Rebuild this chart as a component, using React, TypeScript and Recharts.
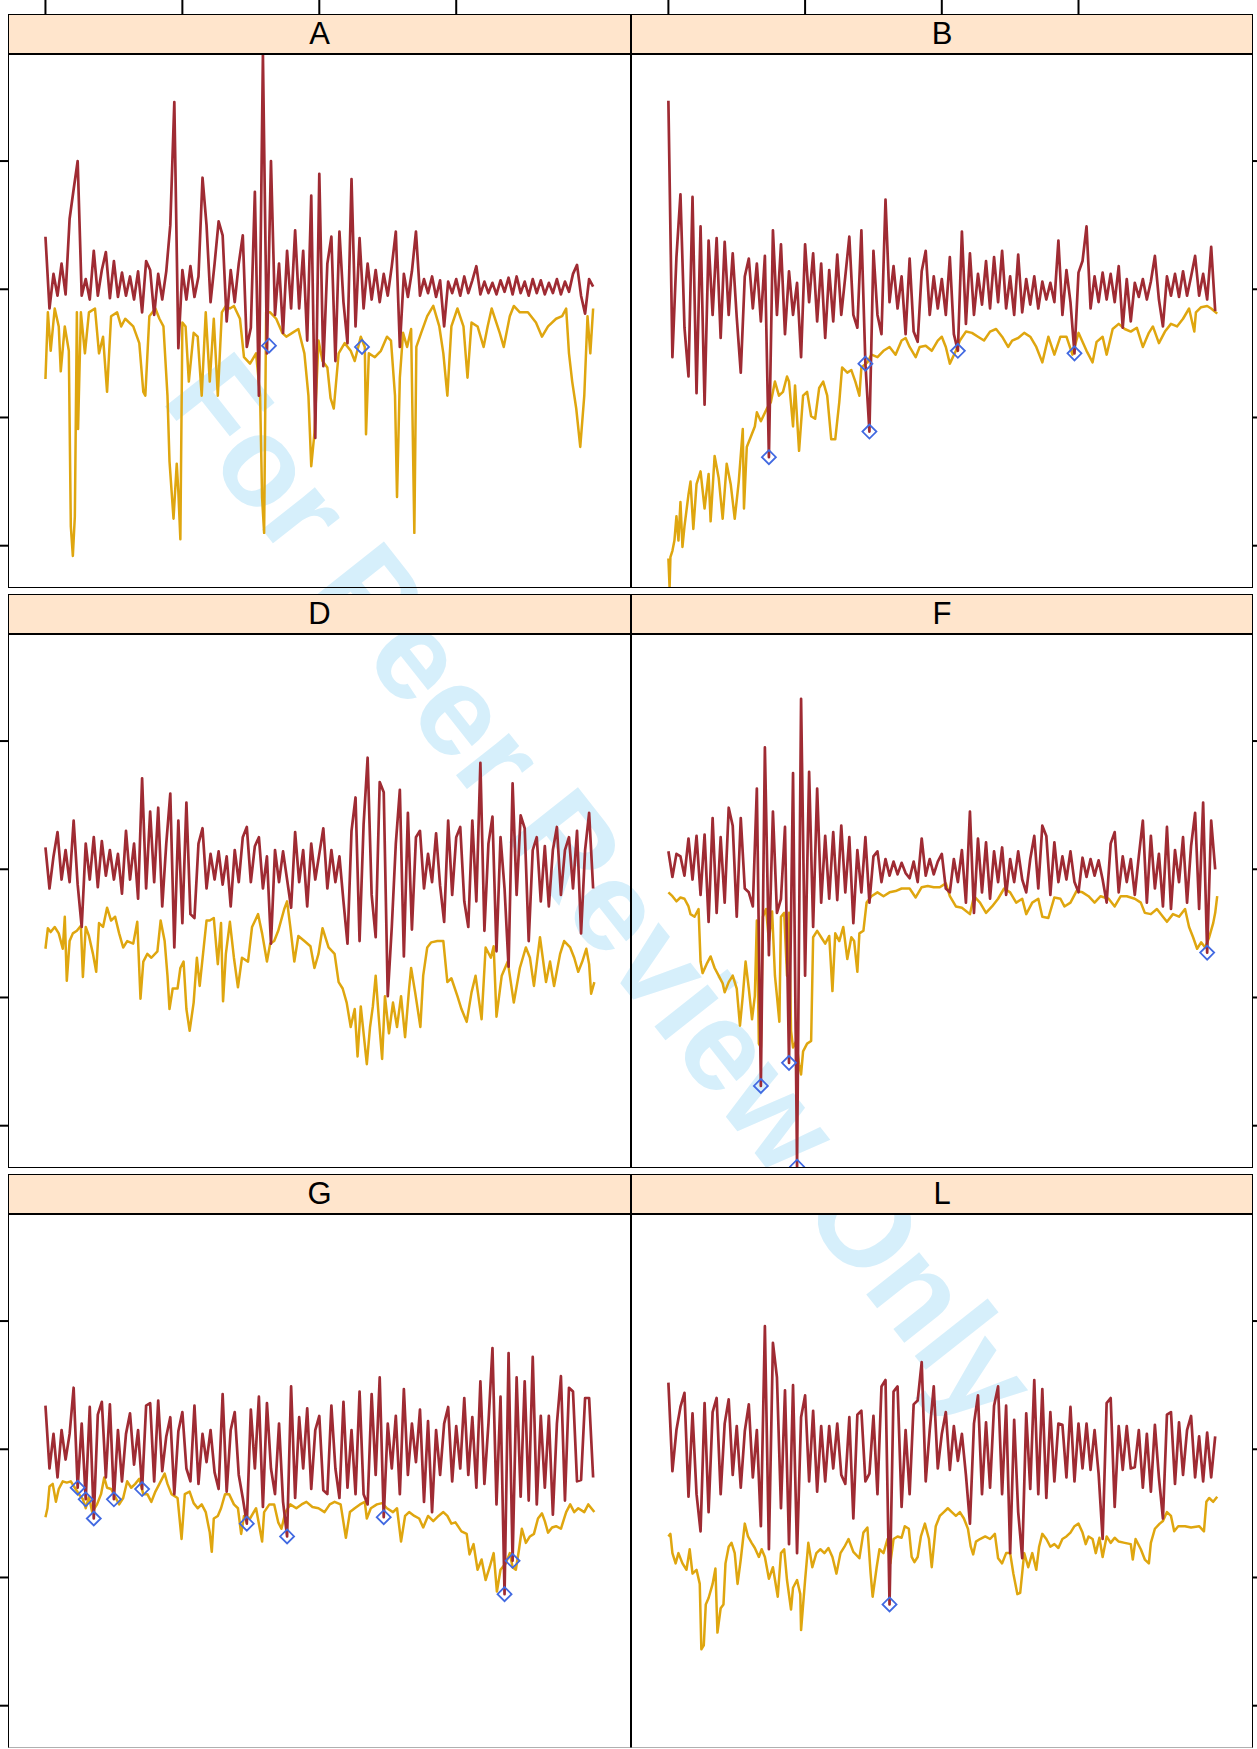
import React from 'react';
import { ComposedChart, Line, Scatter, XAxis, YAxis } from 'recharts';

// time index ticks (top axis) and value ticks (side axes)
const xTicks = [0, 340, 680, 1020];
const yTicks = [10, 0, -10, -20];
const X_STEP = 10;

// red series: one value per step of 10 on the time index
const redA = [
  4.1, -1.5, 1.2, -0.5, 2, -0.4, 5.5, 7.8, 10, -0.5,
  0.8, -0.8, 3, -0.5, 1.5, 2.9, -0.7, 2.2, -0.6, 1.3,
  -0.5, 1, -0.8, 1.4, -1.8, 2.2, 1.5, -2, 1.2, -0.8,
  1.4, 5, 14.6, -4.6, 1.5, -0.8, 1.8, -0.6, 1, 8.7,
  5, -1, 2, 5.3, 4.2, -2.5, 1.5, -1, 2, 4.2,
  -4.5, -3, 7.6, -8.3, 18.3, -5, 10, -2, 2, -3.4,
  3, -1.5, 4.6, -1.5, 3, -4, 7.3, -11.6, 9, -6,
  2, 4.1, -5.6, 4.5, -1, -4.2, 8.6, -2.9, 4, -1.5,
  2, -0.8, 1.5, -1, 1.2, -0.5, 1.8, 4.5, -4.5, 1.2,
  -0.6, 1.4, 4.5, -0.5, 0.8, -0.3, 1, -0.6, 0.7, -2.9,
  0.6, -0.3, 0.8, -0.5, 1, -0.3, 0.7, 1.8, -0.4, 0.6,
  -0.3, 0.5, -0.4, 0.7, -0.2, 0.9, -0.4, 1, -0.3, 0.6,
  -0.5, 0.8, -0.3, 0.7, -0.4, 0.5, -0.3, 0.8, -0.4, 0.6,
  -0.2, 1.2, 1.9, -0.5, -1.9, 0.8, 0.2,
];
const redB = [
  14.7, -5.3, 2.5, 7.4, -3, -6.8, 7.2, -8.1, 4.9, -9,
  3.8, -2, 4, -3.8, 3.7, -2, 2.8, -2.2, -6.5, 1,
  2.4, -1.5, 2, -2.5, 2.6, -13.1, 4.6, -2, 3.5, -3.5,
  1.4, -2, 0.5, -5.3, 3.5, -1, 2.8, -2.5, 2, -3.8,
  1.5, -2.5, 2.7, -2, 1, 4.1, -2, -3, 4.6, -5.8,
  -11.1, 3, -2, -3.5, 7, -1, 1.8, -1.5, 1, -3.5,
  2.4, -3.3, -4.1, 1.4, 3, -2, 1, -1.5, 0.8, -2,
  2.5, -3.5, -4.8, 4.5, -2.7, 2.8, -2, 1.2, -1.2, 2.2,
  -1.5, 2.5, -1, 3, -1.5, 1, -2, 2.7, -1.8, 0.8,
  -1.2, 1, -1.5, 0.6, -0.8, 0.5, -1, 3.8, -2, 1.5,
  -1, -5, 1.3, 2.2, 4.9, -1.5, 1, -1, 1.3, -0.8,
  1.2, -1, 1.8, -3, 0.8, -2.5, 0.5, -0.6, 0.8, -0.8,
  0.6, 2.6, -0.8, -2.9, 1, -0.5, 1.2, -0.6, 1.4, -0.5,
  1, 2.6, -0.5, 1.2, -0.8, 3.3, -1.7,
];
const redD = [
  1.7, -1.5, 1, 2.9, -0.8, 1.5, -1, 3.8, -1.2, -4.5,
  2, -0.8, 2.5, -1.4, 2.2, -0.5, 1.5, -0.8, 1.2, -1.9,
  3, -0.8, 2, -2.3, 7.1, -1.5, 4.5, -1, 4.8, -2.9,
  2, 5.9, -6.1, 3.8, -4.2, 5.2, -3.5, -3.8, 2, 3.2,
  -1.5, 1.2, -0.8, 1.4, -1.2, 1, -2.9, 1.5, -1, 2.5,
  3.3, -1, 1.8, 2.5, -1.5, 1, -5.8, 1.5, -1, 1.4,
  -0.8, -3, 2.9, -1, 1.5, -2.9, 2, -0.8, 1.2, 3.2,
  -1.5, 1.5, -1, 1, -2.5, -5.8, 3, 5.6, -5.6, 3.5,
  8.7, -2, -5.3, 6.8, 6, -9.9, -4.5, 2, 6.2, -6.8,
  4.4, -4.7, 2.5, 3, -1.5, 1.2, -1, 2.8, -1.3, -4.1,
  3.8, -2, 2.5, 3.3, -2.5, -4.5, 3.8, -2.5, 8.3, -4.8,
  2, 4.1, -6.4, 2.5, -1.5, -7.6, 6.7, -2, 4.2, 3.2,
  -5.6, 1.5, 2.5, -2.5, 1.8, -2.9, 1.5, 3.3, -2, 1.5,
  2.5, -1.5, 3, -5, 1.5, 4.4, -1.5,
];
const redF = [
  1.4, -0.6, 1.2, 1, -0.5, 2.4, -0.8, 2.6, -2, 2.7,
  -4.1, 4, -3.4, 2.5, -2.6, 4.8, 3.4, -3.7, 4, -1.5,
  -1.8, -2.9, 6.3, -16.9, 9.5, -6.7, 4.5, -3.4, -2.3, 3.3,
  -15.1, 7.5, -23.2, 13.3, -8.3, 7.6, -4.5, 6.3, -2.6, 2.6,
  -2.3, 2.9, -2.4, 3.4, -1.8, 2.5, -4.2, 1.5, -1.8, 2.5,
  -2.6, 1, 1.4, -1, 0.8, -0.5, 0.6, -0.4, 0.5, -0.3,
  -0.7, 0.6, -1, 2.4, -0.5, 0.8, -0.4, 0.6, 1.2, -1.5,
  -1.8, 0.8, -1, 1.5, -2.6, 4.5, -3.4, 2.4, -1.8, 2.1,
  -2.3, 1.4, -1, 1.7, -2, 0.8, -1, 1.4, -0.8, -1.8,
  0.8, 2.6, -1.5, 3.4, 2.6, -2, 2.1, -1, 1, -0.8,
  1.4, -1, -1.8, 0.9, -0.6, 0.8, -0.5, 0.7, -0.8, -2.6,
  2, 2.9, -1.8, 1, -1, 0.8, -2, 1, 3.8, -2.6,
  2.6, -1.5, 1.2, -2.9, 3.3, -3.1, 1.5, -1, 2.5, -2.6,
  1.8, 4.4, -3.1, 5.2, -6.5, 3.8, 0,
];
const redG = [
  3.4, -1.5, 1.2, -2.2, 1.5, -0.8, 1.2, 4.8, -3, 2,
  -3.9, 3.3, -5.4, 2.7, 3.7, -2.2, 3.5, -3.9, 1.5, -2.5,
  1.2, 2.8, -1.2, 1.5, -3.1, 3.4, 3.6, -2.5, 3.8, -1.7,
  1, 2.5, -3.5, 1.4, 2.9, -1.5, -2.5, 3.4, -2.7, 1.2,
  -1, 1.5, -1.8, -3.1, 4.3, -3.3, 1.5, 2.9, -2, -3.8,
  -5.8, 3.1, -1.5, 4.1, -4.5, 3.6, -1.5, -3.5, 2, -4.1,
  -6.8, 4.9, -3.8, 2.5, -1.5, 3.2, -3.1, 1.5, 2.6, -3.2,
  -3.5, 3.4, -1.5, -3.8, 3.7, -3, 1.5, -3.5, 4.5, -3.5,
  -4.3, 4.3, -2, 5.6, -5.3, 2, -1.5, 2.6, -3.5, 4.7,
  -2, 2, -1, 3.1, -4.1, 2.2, -4.9, 1.5, -2, 2,
  3.3, -2.5, 1.8, -1.5, 4, -2, 2.5, -3, 5.3, -2.7,
  2, 7.9, -4.3, 4.1, -11.3, 7.5, -8.7, 5.6, -3.7, 5.3,
  -4, 7.2, -4.3, 2.6, -3, 2.6, -5.1, 2, 5.7, -4,
  4.8, 4.5, -2.5, -2.4, 4, 4, -2.2,
];
const redL = [
  5.2, -1.7, 1.5, 3.3, 4.4, -3.7, 2.8, -3.5, -6.4, 3.6,
  -4.9, 2.9, 4, -3.5, 2, 3.9, -2, 1.8, -3, 1.4,
  3.5, -2.2, 1.5, -6, 9.6, -7.8, 8.3, 5.6, -4.6, 4.6,
  -7.4, 5, -8.1, 2.5, 4.2, -2.5, 3, -3.3, 1.8, -2.5,
  1.8, -1.5, 2, -2, -2.7, 2.5, -5.4, 2.7, 3, -2.5,
  -1.9, 2.6, -3.5, 4.9, 5.4, -12.1, 4.5, 4.9, -4.5, 1.5,
  -3.5, 3.5, 3.8, 6.8, -2.5, 1.5, 4.9, -1.5, 1.2, 2.9,
  -1.6, 1.8, -0.9, 1.2, -2, -5.8, 2, 4.2, -3.5, 2.1,
  -3, 3.4, 4.9, -3.5, 3.4, -8.1, 2.3, -4.9, -8.5, 2.8,
  -3.1, 5.4, -3.5, 4.7, -3.8, 2.9, -2.5, 2, 1.9, -2.2,
  3.3, -2.5, 2, -1.5, 2, -1.6, 1.5, -1.9, -7, 3.6,
  4, -4.5, 1.8, -1.6, 1.8, -1.5, -1.4, 1.5, -3, 1.2,
  -3.3, 1.9, -2.2, -5.4, 2.7, 2.9, -2.7, 2.1, -2, 1.5,
  2.6, -2.2, 1, -2.5, 1.3, -2.2, 1,
];

// orange series: [time index, value]
const orangeA = [
  [0, -7], [6, -1.8], [13, -4.8], [23, -1.5], [33, -2.9], [38, -6.4], [48, -2.9], [58, -4.8], [63, -18.5], [68, -20.8],
  [73, -17.7], [78, -1.8], [81, -10.9], [88, -1.8], [98, -5], [108, -1.8], [123, -1.5], [133, -5], [143, -3.7], [153, -8],
  [163, -2.1], [178, -1.8], [188, -2.9], [198, -2.3], [218, -2.9], [233, -4.2], [243, -8], [248, -8.3], [258, -2.1], [273, -1.5],
  [283, -2.3], [293, -2.9], [303, -8.3], [308, -13.4], [318, -17.9], [326, -13.6], [330, -15.8], [335, -19.5], [340, -2.6], [348, -2.9],
  [356, -7.2], [368, -3.4], [378, -3.7], [388, -8.3], [398, -1.8], [408, -7.2], [418, -2.3], [428, -8.3], [438, -1.8], [448, -1.3],
  [458, -1.5], [468, -1.3], [483, -2.3], [493, -5.3], [508, -5.8], [523, -5], [533, -8.3], [538, -16.3], [543, -19], [548, -1.8],
  [558, -1.8], [573, -2.3], [588, -3.4], [598, -3.7], [613, -3.4], [628, -3.1], [643, -5], [653, -8.3], [660, -13.8], [668, -11.2],
  [678, -4], [688, -5.6], [700, -6.1], [708, -8.5], [716, -9.3], [728, -5], [743, -4.2], [758, -4.8], [768, -5.6], [783, -3.7],
  [793, -4.5], [796, -11.3], [803, -5], [818, -5.3], [833, -4.8], [848, -3.7], [858, -4], [868, -8.3], [873, -16.2], [880, -6.9],
  [888, -3.4], [898, -4.5], [908, -3.1], [916, -19], [921, -4.5], [933, -3.4], [948, -2.1], [963, -1.3], [978, -2.9], [988, -5],
  [998, -8.3], [1008, -2.9], [1023, -1.5], [1038, -2.9], [1048, -6.9], [1058, -2.6], [1073, -2.9], [1088, -4.5], [1098, -2.9], [1108, -1.5],
  [1128, -3.4], [1138, -4.5], [1153, -2.1], [1163, -1.3], [1178, -1.8], [1198, -1.8], [1218, -2.6], [1233, -3.7], [1248, -2.9], [1268, -2.3],
  [1283, -2.1], [1293, -1.5], [1300, -5], [1308, -7.2], [1318, -9.3], [1328, -12.3], [1338, -8.3], [1346, -2.1], [1353, -5], [1360, -1.5],
];
const orangeB = [
  [0, -21], [3, -23.3], [5, -20.9], [10, -20.4], [15, -19.6], [20, -17.7], [25, -19.6], [30, -16.6], [35, -20.1], [40, -18.5],
  [50, -16], [55, -15], [62, -18.7], [70, -15.2], [80, -14.2], [90, -17.1], [100, -14.4], [105, -18.1], [115, -13], [125, -14.7],
  [135, -17.9], [145, -13.6], [155, -15.2], [165, -17.9], [175, -15], [185, -10.9], [188, -17.1], [195, -12.3], [205, -11.5], [215, -10.7],
  [220, -9.6], [230, -10.3], [245, -9.3], [255, -8.8], [265, -7.2], [275, -8.3], [285, -8], [295, -6.8], [300, -7.2], [310, -10.7],
  [315, -7.5], [325, -12.6], [335, -8.3], [345, -8], [355, -9.9], [365, -10.1], [375, -7.7], [385, -7.2], [395, -8.3], [405, -11.7],
  [415, -11.7], [425, -8.8], [432, -6.1], [445, -6.5], [455, -6.3], [465, -7.2], [475, -8.3], [480, -6.1], [495, -5.7], [505, -5.1],
  [520, -5.3], [535, -4.8], [550, -4.5], [565, -5.1], [580, -4], [590, -3.8], [600, -4.5], [615, -5.3], [625, -4.5], [640, -4.4],
  [655, -4.8], [670, -4], [680, -3.7], [690, -4.5], [700, -5.8], [715, -4.8], [725, -4], [740, -3.3], [755, -3.4], [770, -3.7],
  [785, -4], [800, -3.3], [815, -3.1], [830, -3.7], [845, -4.5], [855, -4], [870, -3.8], [885, -3.4], [900, -3.7], [915, -4.5],
  [930, -5.7], [945, -3.7], [960, -5.1], [975, -3.7], [990, -3.7], [1005, -5.1], [1020, -3.4], [1040, -4.8], [1055, -5.7], [1065, -4.1],
  [1080, -3.7], [1090, -5.1], [1105, -3.1], [1120, -2.7], [1135, -3.1], [1150, -3.3], [1165, -3], [1180, -4.5], [1195, -3.4], [1205, -2.9],
  [1220, -4.2], [1235, -3.3], [1250, -2.7], [1265, -2.9], [1280, -2.3], [1295, -1.5], [1308, -3.3], [1312, -1.8], [1325, -1.4], [1340, -1.3],
  [1350, -1.5], [1365, -1.9],
];
const orangeD = [
  [0, -6.2], [6, -4.6], [13, -4.9], [23, -4.5], [33, -5], [43, -6.2], [48, -3.7], [53, -8.7], [60, -5.6], [68, -5],
  [78, -4.8], [88, -4.4], [93, -8.4], [100, -4.5], [108, -5.2], [118, -6.6], [126, -8], [133, -4.2], [143, -4.5], [153, -3],
  [163, -4], [173, -3.7], [183, -5], [193, -6.1], [203, -5.6], [218, -5.8], [228, -4.1], [236, -10.1], [243, -7.2], [253, -6.6],
  [263, -6.9], [278, -6.4], [286, -4], [296, -5.6], [303, -8.3], [308, -10.9], [316, -9.3], [328, -9.3], [335, -7.7], [343, -7.2],
  [350, -10.9], [358, -12.6], [368, -10.4], [376, -6.9], [383, -9.1], [393, -6.1], [400, -4], [408, -4], [418, -3.8], [428, -7.4],
  [436, -4.2], [441, -10.3], [448, -6.6], [458, -4.1], [468, -6.9], [478, -9.2], [488, -6.9], [503, -7.2], [513, -4.5], [528, -3.5],
  [538, -5], [550, -7.2], [558, -5.8], [568, -5.6], [578, -4.8], [593, -3.1], [600, -2.5], [608, -4.5], [618, -7.2], [628, -5.2],
  [643, -5.6], [658, -6], [668, -7.7], [678, -6.6], [688, -4.6], [703, -6.1], [718, -6.6], [728, -8.8], [738, -9.3], [748, -10.4],
  [758, -12.3], [768, -10.9], [775, -14.6], [783, -10.7], [791, -13.1], [798, -15.2], [806, -12.3], [813, -10.7], [820, -8.3], [828, -11.7],
  [836, -14.8], [843, -9.9], [853, -12.8], [863, -10.4], [873, -12.3], [883, -9.9], [893, -13.1], [903, -9.3], [908, -7.7], [918, -9.6],
  [931, -12.3], [938, -8.3], [948, -6.1], [958, -5.7], [973, -5.6], [988, -5.6], [998, -8.8], [1008, -8.5], [1023, -9.9], [1033, -10.9],
  [1046, -11.9], [1058, -9.6], [1068, -8.3], [1083, -11.7], [1093, -6.1], [1106, -6.9], [1113, -6], [1120, -11.5], [1133, -8.3], [1148, -7.2],
  [1163, -10.4], [1178, -7.7], [1193, -6.1], [1203, -6.9], [1213, -9.1], [1228, -5.3], [1243, -8.8], [1253, -7.2], [1263, -9.1], [1278, -6.6],
  [1288, -5.6], [1303, -6.1], [1313, -6.9], [1323, -8], [1333, -7.2], [1343, -6.2], [1350, -7.4], [1355, -9.7], [1363, -8.8],
];
const orangeF = [
  [0, -1.8], [10, -2.1], [20, -2.5], [30, -2.2], [40, -2.3], [50, -2.9], [55, -3.5], [65, -3.7], [75, -3.1], [80, -7.2],
  [85, -8.1], [95, -7.4], [105, -6.8], [115, -7.7], [125, -8.3], [135, -8.9], [140, -9.6], [150, -8.8], [160, -8.3], [170, -9.3],
  [178, -12.2], [185, -9.9], [192, -7.2], [200, -9.3], [208, -11.7], [215, -9.9], [220, -4], [225, -13.6], [230, -13.9], [235, -3.7],
  [243, -3.1], [250, -5.6], [258, -3.3], [265, -8.3], [270, -9.9], [276, -11.9], [280, -3.7], [288, -3.4], [295, -8.3], [300, -3.4],
  [305, -12.6], [310, -13.9], [318, -13.4], [325, -15.2], [330, -16], [335, -14.2], [345, -13.6], [355, -13.4], [360, -5.3], [370, -4.8],
  [380, -5.3], [390, -5.8], [400, -5.2], [408, -9.5], [415, -5], [425, -5.6], [435, -4.5], [445, -7], [455, -5.3], [462, -5.6],
  [470, -8], [475, -5], [485, -4.8], [493, -2.6], [505, -2.1], [520, -1.8], [535, -2.1], [550, -1.8], [565, -1.7], [580, -1.5],
  [600, -1.5], [615, -2.2], [630, -1.4], [645, -1.3], [660, -1.4], [675, -1.4], [690, -1.1], [700, -2.1], [715, -2.9], [730, -3],
  [750, -3.5], [760, -2.1], [775, -2.6], [790, -3.4], [805, -2.9], [820, -2.3], [835, -1.5], [850, -1.8], [865, -2.6], [880, -2.3],
  [890, -3.5], [905, -2.6], [920, -2.3], [930, -3.7], [945, -3.8], [960, -2.2], [975, -2.3], [985, -2.9], [1000, -2.6], [1015, -1.7],
  [1030, -1.8], [1045, -2.1], [1060, -2.6], [1075, -2.1], [1095, -2.3], [1110, -2.9], [1125, -2.1], [1140, -2.1], [1160, -2.3], [1175, -2.6],
  [1185, -3.4], [1200, -3.5], [1215, -3.1], [1230, -3.7], [1240, -4.1], [1255, -3.5], [1270, -3.7], [1285, -3.1], [1295, -4.5], [1305, -5.3],
  [1315, -6.2], [1325, -5.7], [1335, -6.1], [1345, -5.3], [1355, -4.2], [1360, -3.4], [1365, -2.1],
];
const orangeG = [
  [0, -5.3], [5, -4.6], [10, -2.9], [18, -2.7], [26, -4.1], [33, -3.1], [43, -2.5], [53, -2.6], [63, -2.5], [73, -3],
  [83, -3.5], [93, -3.9], [100, -4.6], [108, -3.7], [116, -4.9], [128, -4.3], [138, -3.5], [146, -2.2], [153, -3], [163, -3.1],
  [173, -3.7], [183, -4.3], [193, -3.8], [203, -2.5], [213, -3], [223, -2.7], [233, -2.3], [243, -3.5], [253, -3.5], [263, -4.1],
  [273, -3.3], [283, -2.7], [296, -1.9], [303, -2.7], [313, -3.5], [328, -3.8], [338, -7], [346, -3.5], [358, -3.3], [368, -4.2],
  [378, -4.6], [388, -4.3], [398, -4.9], [408, -6.5], [413, -8], [418, -5.4], [428, -5.2], [436, -4.6], [446, -3.5], [456, -3.5],
  [468, -4.3], [478, -4.6], [486, -6.6], [493, -5.2], [508, -5.4], [523, -4.6], [538, -7.2], [543, -4.9], [556, -4.3], [568, -4.3],
  [578, -5.7], [586, -6.2], [596, -4.9], [608, -4.3], [623, -4.6], [636, -4.3], [648, -4.1], [663, -4.5], [678, -4.6], [693, -4.9],
  [706, -4.3], [718, -4.1], [733, -4.3], [746, -6.9], [756, -4.9], [768, -4.6], [781, -4.3], [793, -4.1], [798, -5.4], [808, -4.6],
  [823, -4.3], [836, -4.2], [848, -4.6], [863, -4.9], [873, -4.6], [883, -7.2], [893, -5.2], [903, -4.9], [916, -5.2], [928, -5.4],
  [938, -6.1], [950, -5.2], [963, -5.6], [976, -5.2], [988, -4.9], [998, -5.2], [1008, -5.8], [1018, -5.7], [1033, -6.4], [1046, -6.6],
  [1053, -8.2], [1063, -7.4], [1073, -9.4], [1083, -8.6], [1093, -10.2], [1103, -9.2], [1113, -8.1], [1121, -11.1], [1130, -9.4], [1143, -8.9],
  [1153, -8.1], [1160, -9.2], [1168, -9.4], [1176, -7.8], [1183, -6.2], [1193, -7.3], [1203, -6.8], [1213, -6.6], [1223, -5.4], [1233, -5],
  [1240, -5.6], [1248, -6.5], [1258, -6.1], [1268, -6], [1280, -6.2], [1293, -4.9], [1303, -4.3], [1313, -4.9], [1323, -4.6], [1338, -4.9],
  [1348, -4.3], [1363, -4.9],
];
const orangeL = [
  [0, -6.8], [5, -6.6], [10, -8.1], [18, -8.9], [25, -8.1], [35, -8.9], [45, -9.4], [53, -7.8], [60, -9.7], [70, -9.4],
  [78, -10.5], [82, -15.6], [88, -15.3], [93, -12.1], [100, -11.6], [110, -10.5], [117, -9.3], [122, -14.3], [130, -12.4], [137, -12.1],
  [142, -8.9], [150, -7.6], [157, -7.3], [165, -8.1], [172, -10.5], [180, -8.6], [190, -5.8], [198, -6.8], [207, -7.3], [215, -7.7],
  [225, -8.4], [232, -7.8], [240, -8.4], [250, -10.1], [260, -9.2], [272, -11.5], [280, -8.1], [288, -7.8], [295, -10.2], [305, -12.5],
  [310, -10.8], [320, -10.2], [328, -11.3], [330, -14.1], [340, -10.2], [348, -7.3], [358, -9.2], [368, -8.1], [378, -7.8], [388, -8.1],
  [398, -7.7], [408, -8.4], [418, -9.7], [428, -8.1], [438, -7.6], [448, -7], [460, -8], [475, -8.5], [485, -6.5], [495, -6.1],
  [503, -9.7], [508, -11.5], [518, -9.2], [525, -7.8], [535, -8.1], [545, -7], [552, -8.9], [560, -7], [570, -6.8], [580, -6.9],
  [588, -6], [598, -6.2], [605, -8.4], [612, -8.8], [620, -8.4], [628, -6.8], [638, -5.8], [648, -7], [655, -9.2], [665, -6],
  [675, -5.2], [685, -4.9], [695, -4.6], [705, -4.9], [715, -5.2], [725, -4.9], [735, -5.4], [745, -6.2], [752, -7.6], [758, -8.2],
  [765, -7.2], [775, -7], [788, -6.8], [800, -7], [812, -6.6], [820, -8.5], [830, -8.9], [840, -8.1], [850, -8.1], [858, -9.7],
  [868, -11.3], [875, -11.2], [885, -8.1], [895, -9.2], [905, -8.1], [915, -9.4], [922, -7.6], [930, -6.6], [940, -7], [950, -7.6],
  [960, -7.4], [970, -7.7], [980, -7], [990, -6.8], [1000, -6.5], [1010, -6], [1020, -5.8], [1030, -6.5], [1038, -7.4], [1045, -6.8],
  [1055, -7], [1063, -8.1], [1072, -6.9], [1080, -8.4], [1090, -6.8], [1100, -7.3], [1110, -6.9], [1120, -7.2], [1135, -7.3], [1150, -7.4],
  [1155, -8.6], [1162, -7], [1175, -7.8], [1185, -8.6], [1195, -8.9], [1200, -7.3], [1210, -6.2], [1222, -5.8], [1230, -5.6], [1240, -4.9],
  [1250, -5.2], [1258, -6.4], [1268, -6], [1285, -6], [1300, -6.1], [1320, -6], [1332, -6.4], [1338, -4.1], [1345, -3.8], [1355, -4.1],
  [1365, -3.7],
];

// flagged points (blue diamonds): [time index, value]
const marksA = [[555, -4.4], [786, -4.5]];
const marksB = [[250, -13.1], [490, -5.8], [500, -11.1], [720, -4.8], [1010, -5]];
const marksD: number[][] = [];
const marksF = [[230, -16.9], [300, -15.1], [320, -23.2], [1340, -6.5]];
const marksG = [[80, -3], [100, -3.9], [120, -5.4], [170, -3.9], [240, -3.1], [500, -5.8], [600, -6.8], [840, -5.3], [1140, -11.3], [1160, -8.7]];
const marksL = [[550, -12.1]];

const panels = [
  { name: 'A', red: redA, orange: orangeA, marks: marksA },
  { name: 'B', red: redB, orange: orangeB, marks: marksB },
  { name: 'D', red: redD, orange: orangeD, marks: marksD },
  { name: 'F', red: redF, orange: orangeF, marks: marksF },
  { name: 'G', red: redG, orange: orangeG, marks: marksG },
  { name: 'L', red: redL, orange: orangeL, marks: marksL },
];

const RED = '#9F2B33';
const ORANGE = '#DFA60F';
const BLUE = '#4169E1';
const STRIP_BG = '#FFE5CC';
const FONT = '"Liberation Sans", Arial, Helvetica, sans-serif';

const X_DOMAIN = [-93, 1454];
const Y_DOMAIN = [-23.3, 18.35];
const ROW_TOP = [54, 634, 1214];
const PLOT_H = 534;
const STRIP_H = 40;
const COL_LEFT = [8, 631];
const COL_W = [623, 622];
const TICK = 8;

const NoLabel = () => <g />;

const Diamond = (props: any) => {
  const { cx, cy } = props;
  if (cx == null || cy == null) return null;
  const r = 7;
  return (
    <path
      d={`M${cx},${cy - r}L${cx + r},${cy}L${cx},${cy + r}L${cx - r},${cy}Z`}
      fill="none"
      stroke={BLUE}
      strokeWidth={1.8}
    />
  );
};

const Panel = ({ p, idx }: { p: any; idx: number }) => {
  const col = idx % 2;
  const row = Math.floor(idx / 2);
  const axisH = row === 0 ? ROW_TOP[0] : 0;
  const top = row === 0 ? 0 : ROW_TOP[row];
  const left = col === 0 ? 0 : COL_LEFT[1];
  const width = COL_W[col] + TICK;
  const redData = p.red.map((y: number, i: number) => ({ x: i * X_STEP, y }));
  const orangeData = p.orange.map(([x, y]: number[]) => ({ x, y }));
  const markData = p.marks.map(([x, y]: number[]) => ({ x, y }));

  return (
    <div style={{ position: 'absolute', left, top }}>
      <ComposedChart width={width} height={PLOT_H + axisH} margin={{ top: 0, right: 0, bottom: 0, left: 0 }}>
        <XAxis
          type="number"
          dataKey="x"
          domain={X_DOMAIN}
          allowDataOverflow
          ticks={xTicks}
          orientation="top"
          height={axisH}
          hide={row !== 0}
          tick={NoLabel}
          tickSize={axisH}
          axisLine={false}
          tickLine={{ stroke: '#000', strokeWidth: 2 }}
        />
        <YAxis
          type="number"
          dataKey="y"
          domain={Y_DOMAIN}
          allowDataOverflow
          ticks={yTicks}
          orientation={col === 0 ? 'left' : 'right'}
          width={TICK}
          tick={NoLabel}
          tickSize={TICK}
          axisLine={false}
          tickLine={{ stroke: '#000', strokeWidth: 2 }}
        />
        <Line
          data={orangeData}
          dataKey="y"
          type="linear"
          stroke={ORANGE}
          strokeWidth={2.5}
          strokeLinejoin="round"
          dot={false}
          isAnimationActive={false}
        />
        <Line
          data={redData}
          dataKey="y"
          type="linear"
          stroke={RED}
          strokeWidth={2.7}
          strokeLinejoin="round"
          dot={false}
          isAnimationActive={false}
        />
        {markData.length > 0 && (
          <Scatter data={markData} shape={Diamond} isAnimationActive={false} />
        )}
      </ComposedChart>
    </div>
  );
};

const Frame = ({ p, idx }: { p: any; idx: number }) => {
  const col = idx % 2;
  const row = Math.floor(idx / 2);
  const left = COL_LEFT[col];
  const w = COL_W[col];
  const plotTop = ROW_TOP[row];
  return (
    <>
      <div
        style={{
          position: 'absolute',
          left,
          top: plotTop - STRIP_H,
          width: w,
          height: STRIP_H,
          boxSizing: 'border-box',
          background: STRIP_BG,
          border: '1.5px solid #000',
          fontFamily: FONT,
          fontSize: 31,
          lineHeight: `${STRIP_H - 3}px`,
          textAlign: 'center',
          color: '#000',
        }}
      >
        {p.name}
      </div>
      <div
        style={{
          position: 'absolute',
          left,
          top: plotTop,
          width: w,
          height: PLOT_H,
          boxSizing: 'border-box',
          border: '1.2px solid #000',
          borderBottomColor: row === 2 ? '#b0b0b0' : '#000',
          pointerEvents: 'none',
        }}
      />
    </>
  );
};

export default function App() {
  return (
    <div
      style={{
        position: 'absolute',
        left: 0,
        top: 0,
        width: 1257,
        height: 1749,
        overflow: 'hidden',
        background: '#fff',
      }}
    >
      <div
        style={{
          position: 'absolute',
          left: 602,
          top: 889,
          transform: 'translate(-50%, -50%) rotate(51.7deg)',
          fontFamily: FONT,
          fontWeight: 'bold',
          fontSize: 128,
          lineHeight: 1,
          color: '#D6EFFB',
          whiteSpace: 'nowrap',
        }}
      >
        For Peer Review Only
      </div>
      {panels.map((p, i) => (
        <Panel key={p.name} p={p} idx={i} />
      ))}
      {panels.map((p, i) => (
        <Frame key={`f-${p.name}`} p={p} idx={i} />
      ))}
    </div>
  );
}
